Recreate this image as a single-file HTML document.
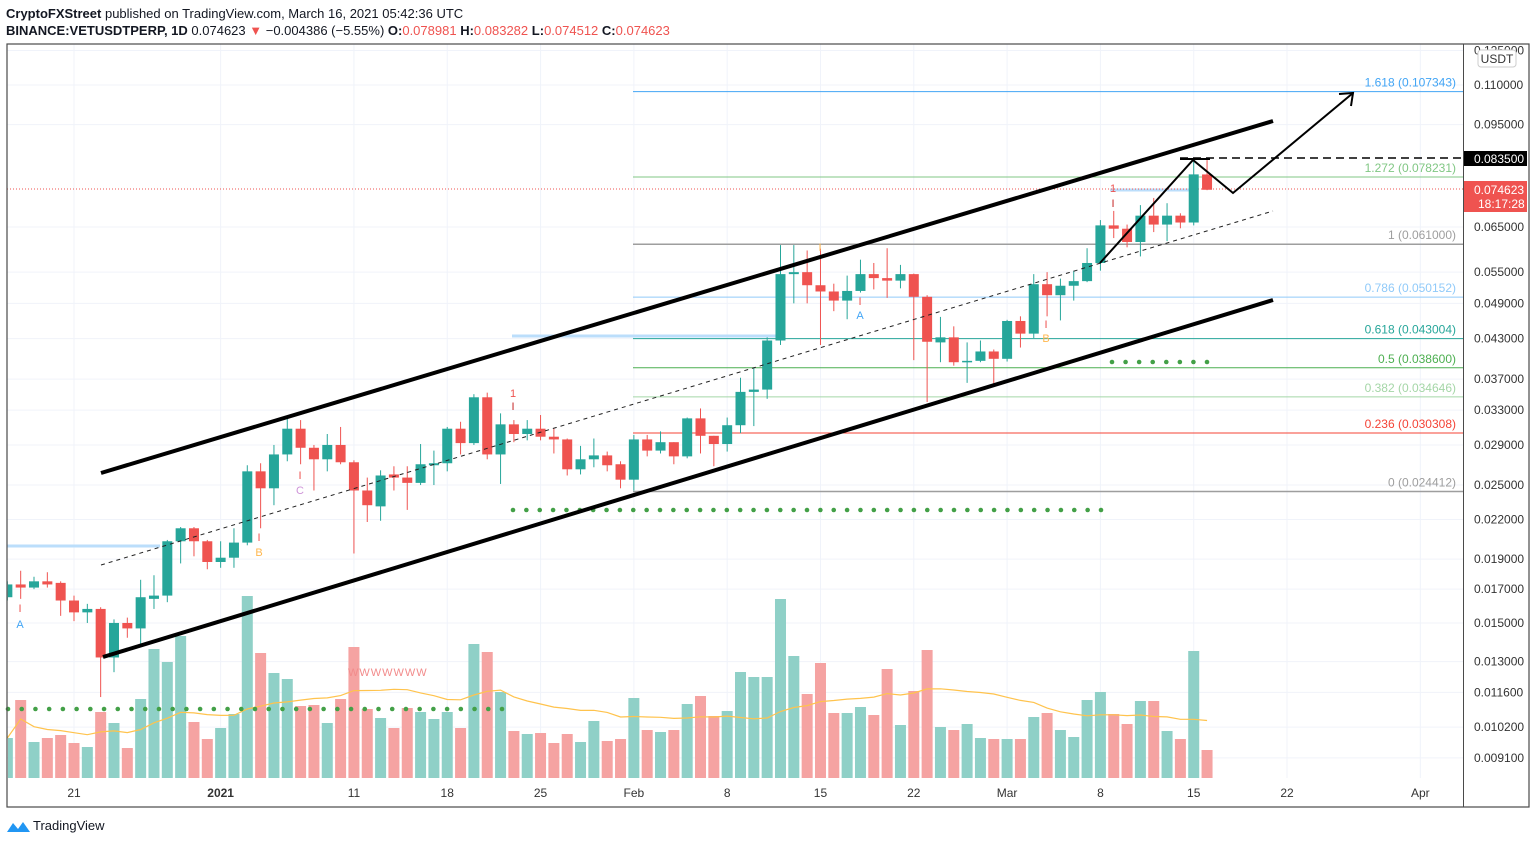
<!DOCTYPE html>
<html><head><meta charset="utf-8"><style>
html,body{margin:0;padding:0;background:#fff;}
svg{display:block;font-family:"Liberation Sans",sans-serif;}
</style></head><body>
<svg id="chart" width="1536" height="844" viewBox="0 0 1536 844">
<text x="6" y="18" font-size="13" fill="#131722"><tspan font-weight="bold">CryptoFXStreet</tspan> published on TradingView.com, March 16, 2021 05:42:36 UTC</text>
<text x="6" y="35" font-size="13" fill="#131722"><tspan font-weight="bold">BINANCE:VETUSDTPERP, 1D</tspan> 0.074623 <tspan fill="#ef5350">▼</tspan> −0.004386 (−5.55%) <tspan font-weight="bold">O:</tspan><tspan fill="#ef5350">0.078981</tspan> <tspan font-weight="bold">H:</tspan><tspan fill="#ef5350">0.083282</tspan> <tspan font-weight="bold">L:</tspan><tspan fill="#ef5350">0.074512</tspan> <tspan font-weight="bold">C:</tspan><tspan fill="#ef5350">0.074623</tspan></text>
<g id="grid"></g>
<g id="fib"></g>
<g id="vol"></g>
<g id="draw1"></g>
<g id="candles"></g>
<g id="draw2"></g>
<g id="axes"></g>
<rect x="7" y="44" width="1522" height="763" fill="none" stroke="#4a4a4a" stroke-width="1.2"/>
<line x1="1463.5" y1="44" x2="1463.5" y2="807" stroke="#4a4a4a" stroke-width="1"/>
<g>
<path d="M7 832 L13 823 L18 829 L23 822 L30 832 Z" fill="#2196f3"/>
<text x="33" y="830" font-size="13" fill="#131722">TradingView</text>
</g>
</svg>
<script>
// ---- data ----
const days = [];
for (let d=-5; d<=85; d++) days.push(d);
const opens  = [0.0165,0.0173,0.0171,0.0175,0.0174,0.0163,0.0156,0.0158,0.0132,0.0150,0.0147,0.0164,0.0166,0.0203,0.0213,0.0203,0.0188,0.0191,0.0202,0.0263,0.0247,0.0280,0.0308,0.0287,0.0275,0.0290,0.0272,0.0245,0.0231,0.0260,0.0257,0.0252,0.0269,0.0271,0.0308,0.0292,0.0346,0.0280,0.0313,0.0302,0.0308,0.0299,0.0296,0.0265,0.0275,0.0279,0.0270,0.0255,0.0296,0.0284,0.0293,0.0278,0.0320,0.0300,0.0291,0.0312,0.0353,0.0356,0.0427,0.0546,0.0550,0.0524,0.0512,0.0495,0.0513,0.0546,0.0538,0.0533,0.0546,0.0502,0.0424,0.0432,0.0394,0.0396,0.0410,0.0399,0.0459,0.0438,0.0526,0.0505,0.0523,0.0532,0.0569,0.0654,0.0646,0.0615,0.0678,0.0656,0.0678,0.0661,0.078981];
const highs  = [0.0175,0.0182,0.0178,0.0181,0.0175,0.0166,0.0161,0.0159,0.0152,0.0153,0.0176,0.0179,0.0204,0.0214,0.0214,0.0204,0.0203,0.0213,0.0269,0.0271,0.0290,0.0320,0.0318,0.0290,0.0302,0.0310,0.0274,0.0257,0.0264,0.0268,0.0268,0.0291,0.0284,0.0310,0.0316,0.0350,0.0352,0.0326,0.0318,0.0318,0.0324,0.0308,0.0297,0.0289,0.0297,0.0283,0.0273,0.0301,0.0301,0.0305,0.0293,0.0321,0.0332,0.0300,0.0321,0.0372,0.0386,0.0432,0.0608,0.0608,0.0596,0.0600,0.0527,0.0543,0.0576,0.0569,0.0601,0.0565,0.0547,0.0505,0.0466,0.0450,0.0424,0.0427,0.0413,0.0461,0.0467,0.0546,0.0550,0.0537,0.0553,0.0601,0.0667,0.0690,0.0656,0.0705,0.0724,0.0710,0.0684,0.0835,0.083282];
const lows   = [0.0163,0.0164,0.0170,0.0171,0.0154,0.0151,0.0150,0.0114,0.0125,0.0142,0.0138,0.0158,0.0162,0.0187,0.0192,0.0183,0.0184,0.0184,0.0200,0.0213,0.0232,0.0273,0.0270,0.0245,0.0263,0.0270,0.0194,0.0218,0.0219,0.0245,0.0228,0.0250,0.0250,0.0263,0.0280,0.0290,0.0275,0.0251,0.0293,0.0295,0.0295,0.0281,0.0259,0.0260,0.0267,0.0263,0.0247,0.0245,0.0278,0.0281,0.0270,0.0276,0.0281,0.0268,0.0283,0.0303,0.0311,0.0344,0.0420,0.0490,0.0490,0.0420,0.0476,0.0462,0.0510,0.0516,0.0500,0.0518,0.0397,0.0340,0.0394,0.0389,0.0365,0.0394,0.0364,0.0395,0.0416,0.0431,0.0467,0.0460,0.0495,0.0530,0.0553,0.0624,0.0603,0.0583,0.0638,0.0617,0.0647,0.0654,0.074512];
const closes = [0.0173,0.0171,0.0175,0.0173,0.0163,0.0156,0.0158,0.0132,0.0150,0.0147,0.0165,0.0166,0.0203,0.0213,0.0203,0.0188,0.0191,0.0202,0.0263,0.0247,0.0280,0.0308,0.0287,0.0275,0.0290,0.0272,0.0245,0.0232,0.0259,0.0257,0.0252,0.0270,0.0271,0.0308,0.0292,0.0346,0.0280,0.0313,0.0302,0.0308,0.0299,0.0296,0.0265,0.0275,0.0279,0.0269,0.0255,0.0296,0.0284,0.0293,0.0278,0.0320,0.0300,0.0291,0.0312,0.0353,0.0356,0.0427,0.0546,0.0550,0.0524,0.0512,0.0495,0.0513,0.0546,0.0538,0.0533,0.0546,0.0502,0.0425,0.0432,0.0394,0.0396,0.0410,0.0399,0.0459,0.0438,0.0526,0.0505,0.0523,0.0532,0.0569,0.0654,0.0646,0.0615,0.0678,0.0656,0.0678,0.0661,0.0790,0.074623];
const volumes = [40,78,36,40,43,35,31,66,55,30,79,129,116,142,56,39,50,64,182,125,105,99,72,73,55,79,131,69,60,50,70,66,59,66,50,134,126,86,47,44,45,35,44,36,57,37,39,80,48,46,48,74,82,62,67,106,101,101,179,122,84,115,65,65,71,63,109,53,87,128,51,48,54,40,39,39,39,61,65,48,41,78,86,64,54,77,77,47,39,127,28];
const fibRatios = ["1.618","1.272","1","0.786","0.618","0.5","0.382","0.236","0"];
const fibPrices = [0.107343,0.078231,0.061000,0.050152,0.043004,0.038600,0.034646,0.030308,0.024412];
const fibColors = ["#42a5f5","#81c784","#9e9e9e","#90caf9","#26a69a","#4caf50","#a5d6a7","#f44336","#9e9e9e"];
const priceTicks = [0.125,0.110,0.095,0.065,0.055,0.049,0.043,0.037,0.033,0.029,0.025,0.022,0.019,0.017,0.015,0.013,0.0116,0.0102,0.0091];
const dateLabels = ["21","2021","11","18","25","Feb","8","15","22","Mar","8","15","22","Apr"];
const dateDays = [0,11,21,28,35,42,49,56,63,70,77,84,91,101];

// ---- scales ----
const NS="http://www.w3.org/2000/svg";
const X0=74, DX=13.33, PL=7, PR=1463, PT=44, PB=778;
function xOf(d){return X0+DX*d;}
function yOf(p){return 85+270*Math.log(0.11/p);}
const VOL_BASE=778, VOL_K=1.0;
function yVol(v){return VOL_BASE-v*VOL_K;}
function mk(tag,attrs,parent){const e=document.createElementNS(NS,tag);for(const k in attrs)e.setAttribute(k,attrs[k]);parent.appendChild(e);return e;}
const G=id=>document.getElementById(id);
const UP="#26a69a", DN="#ef5350";

// grid
const grid=G('grid');
priceTicks.forEach(p=>{const y=yOf(p);if(y<PT||y>PB)return;
  const l=mk('line',{x1:PL,x2:PR,y1:y,y2:y,stroke:'#f0f3fa','stroke-width':1},grid);
  
  });
dateDays.forEach(d=>{const x=xOf(d);
  const l=mk('line',{x1:x,x2:x,y1:PT,y2:PB,stroke:'#f0f3fa','stroke-width':1},grid);
  
  });

// fib
const fib=G('fib');
fibPrices.forEach((p,i)=>{const y=yOf(p);
  const l=mk('line',{x1:633,x2:PR,y1:y,y2:y,stroke:fibColors[i],'stroke-width':(i==2||i==8)?1.5:1},fib);
  
  
  const t=mk('text',{x:1456,y:y-5,'font-size':12,fill:fibColors[i],'text-anchor':'end'},fib);
  t.textContent=fibRatios[i]+" ("+p.toFixed(6)+")";
  
  });

// volume
const vol=G('vol');
volumes.forEach((v,i)=>{const d=days[i];const up=closes[i]>=opens[i];
  const x=xOf(d)-5.5;const y=yVol(v);
  const r=mk('rect',{x:Math.max(x,PL+1),y:y,width:11-(Math.max(x,PL+1)-x),height:VOL_BASE-y,fill:up?'#8fd0c7':'#f5a3a2'},vol);
  
  });
// volume MA 20
let pts=[];
for(let i=0;i<volumes.length;i++){const s=Math.max(0,i-19);let sum=0;for(let j=s;j<=i;j++)sum+=volumes[j];pts.push(xOf(days[i])+','+yVol(sum/(i-s+1)).toFixed(1));}
const ma=mk('polyline',{points:pts.join(' '),fill:'none',stroke:'#ffc34d','stroke-width':1.2},vol);



// drawings behind candles
const d1=G('draw1');
function line(p,a,parent,name){const l=mk('line',Object.assign({x1:p[0],y1:p[1],x2:p[2],y2:p[3]},a),parent);return l;}
line([7,546,160,546],{stroke:'#bbdefb','stroke-width':3},d1,'resistance-zone-1');
line([512,336,780,336],{stroke:'#bbdefb','stroke-width':3},d1,'resistance-zone-2');
line([1110,190,1190,190],{stroke:'#bbdefb','stroke-width':3},d1,'resistance-zone-3');
line([7,189,PR,189],{stroke:'#ef5350','stroke-width':1,'stroke-dasharray':'1 2'},d1,'last-price-line');
function dots(x1,x2,y,n,name){const g=mk('g',{},d1);
  for(let i=0;i<n;i++){mk('circle',{cx:x1+(x2-x1)*i/(n-1),cy:y,r:2.3,fill:'#43a047'},g);}}
dots(513,1101,510,45,'support-dots-main');
dots(1112,1207,362,8,'support-dots-upper');
dots(8,502,709,37,'volume-dots');

// candles
const cg=G('candles');
days.forEach((d,i)=>{const up=closes[i]>=opens[i];const c=up?UP:DN;const x=xOf(d);
  if(x<PL)return;
  const g=mk('g',{},cg);
  
  
  mk('line',{x1:x,x2:x,y1:yOf(highs[i]),y2:yOf(lows[i]),stroke:c,'stroke-width':1},g);
  const yt=yOf(Math.max(opens[i],closes[i])), yb=yOf(Math.min(opens[i],closes[i]));
  const bx=Math.max(x-5,PL+1);
  mk('rect',{x:bx,y:yt,width:10-(bx-(x-5)),height:Math.max(yb-yt,1.5),fill:c},g);});

// drawings on top
const d2=G('draw2');
line([101,473,1273,121],{stroke:'#000','stroke-width':4},d2,'channel-upper');
line([103,657,1273,300],{stroke:'#000','stroke-width':4},d2,'channel-lower');
line([101,565,1273,211],{stroke:'#222','stroke-width':1,'stroke-dasharray':'4 4'},d2,'channel-midline');
line([1180,158,PR,158],{stroke:'#000','stroke-width':1.5,'stroke-dasharray':'8 5'},d2,'target-level-line');
line([1180,159,1210,159],{stroke:'#000','stroke-width':2},d2,'target-tick');
const zz=mk('polyline',{points:'1100,263 1193,160 1233,193 1353,93',fill:'none',stroke:'#000','stroke-width':2},d2);


const ah=mk('polyline',{points:'1339,94 1353,93 1351,106',fill:'none',stroke:'#000','stroke-width':2},d2);


const marks=[[20,612,'I','#ef5350'],[20,628,'A','#42a5f5'],[259,541,'I','#ef5350'],[259,556,'B','#ffb74d'],[300,479,'I','#ef5350'],[300,494,'C','#ce93d8'],[513,397,'1','#ef5350'],[513,410,'I','#c62828'],[820,251,'I','#ffb74d'],[860,305,'I','#ef5350'],[860,319,'A','#42a5f5'],[1046,328,'I','#ef5350'],[1046,342,'B','#ffb74d'],[1113,192,'1','#ef5350'],[1113,207,'I','#c62828']];
marks.forEach(m=>{const t=mk('text',{x:m[0],y:m[1],'font-size':11,fill:m[3],'text-anchor':'middle'},d2);t.textContent=m[2];
  
  });
const ww=mk('text',{x:348,y:676,'font-size':11,fill:'#f28b8b','letter-spacing':'1'},d2);ww.textContent='WWWWWWW';



// axes
const ax=G('axes');
mk('rect',{x:PR+1,y:PT,width:1529-PR-1,height:763,fill:'#fff'},ax);
mk('rect',{x:PL,y:PB+1,width:PR-PL,height:28,fill:'#fff'},ax);
priceTicks.forEach(p=>{const y=yOf(p);if(y<40)return;
  const t=mk('text',{x:1474,y:y+4,'font-size':12,fill:'#333'},ax);t.textContent=p.toFixed(6);
  
  });
const ub=mk('rect',{x:1478,y:50,width:38,height:17,rx:3,fill:'#fff',stroke:'#ccc'},ax);


const ut=mk('text',{x:1497,y:63,'font-size':12,fill:'#333','text-anchor':'middle'},ax);ut.textContent='USDT';


const tb=mk('rect',{x:1464,y:151,width:63,height:15,fill:'#000'},ax);


const tt=mk('text',{x:1474,y:163,'font-size':12,fill:'#fff'},ax);tt.textContent='0.083500';


const pb=mk('rect',{x:1464,y:181,width:63,height:31,fill:'#ef5350'},ax);


const pt=mk('text',{x:1474,y:194,'font-size':12,fill:'#fff'},ax);pt.textContent='0.074623';


const ct=mk('text',{x:1478,y:208,'font-size':12,fill:'#fff'},ax);ct.textContent='18:17:28';


dateLabels.forEach((s,i)=>{const t=mk('text',{x:xOf(dateDays[i]),y:797,'font-size':12,fill:'#333','text-anchor':'middle','font-weight':s==='2021'?'bold':'normal'},ax);t.textContent=s;
  
  });
</script>
</body></html>
